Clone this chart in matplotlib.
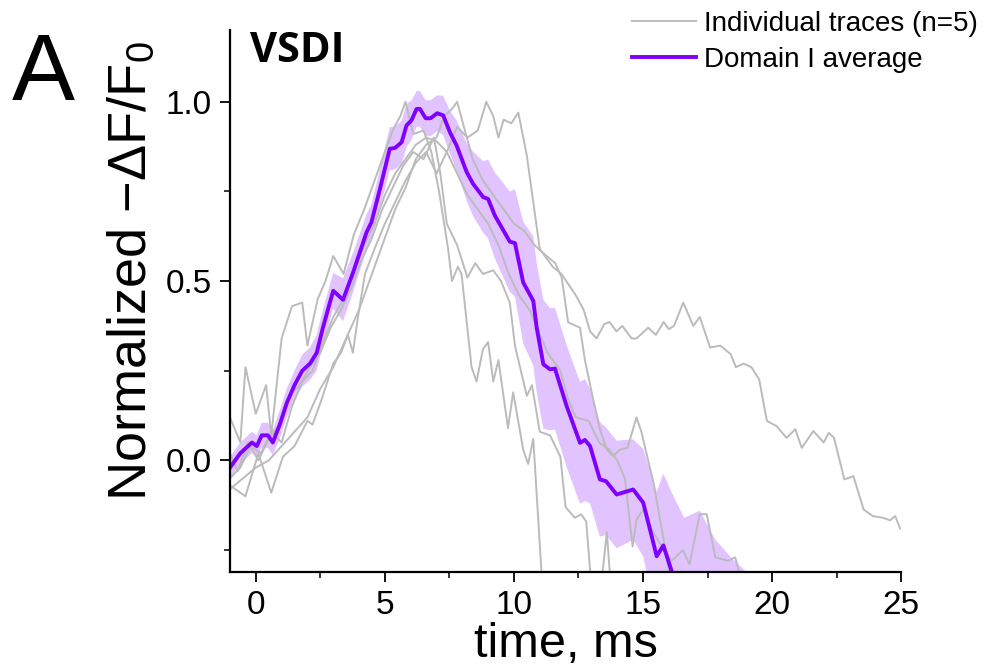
import matplotlib
matplotlib.use("Agg")
import matplotlib.pyplot as plt
from matplotlib.ticker import MultipleLocator

plt.rcParams['font.family'] = ['Liberation Sans', 'DejaVu Sans']
plt.rcParams['mathtext.fontset'] = 'custom'
plt.rcParams['mathtext.rm'] = 'Liberation Sans'
plt.rcParams['mathtext.it'] = 'Liberation Sans'

# individual traces (time ms, normalized -dF/F0)
t1 = [-1.0, -0.6, -0.4, 0.0, 0.4, 0.6, 1.0, 1.4, 1.8, 2.0, 2.4, 2.7, 3.0, 3.4, 3.8, 4.2, 4.6, 5.0, 5.3,
      5.6, 5.8, 6.1, 6.5, 6.8, 7.1, 7.45, 7.6, 7.83, 7.97, 8.36, 8.55, 8.8, 9.0, 9.2, 9.4, 9.77, 9.97,
      10.36, 10.55, 10.75, 11.1]
y1 = [0.12, 0.05, 0.26, 0.13, 0.21, 0.07, 0.34, 0.43, 0.44, 0.32, 0.45, 0.50, 0.57, 0.52, 0.63, 0.70,
      0.78, 0.86, 0.92, 0.96, 1.00, 0.91, 0.92, 0.86, 0.75, 0.59, 0.50, 0.54, 0.52, 0.26, 0.22, 0.31,
      0.33, 0.22, 0.28, 0.09, 0.19, 0.03, -0.01, 0.06, -0.35]

t2 = [-1.0, -0.7, -0.3, 0.1, 0.5, 0.9, 1.3, 1.7, 2.1, 2.5, 2.9, 3.3, 3.7, 4.1, 4.5, 4.9, 5.3, 5.7,
      6.1, 6.5, 6.9, 7.15, 7.4, 7.8, 8.2, 8.5, 8.8, 9.2, 9.5, 9.84, 10.04, 10.5, 10.7, 11.0, 11.4,
      11.8, 12.0, 12.36, 12.6, 12.8, 13.0, 13.3, 13.6, 13.8]
y2 = [0.02, -0.03, 0.05, 0.00, 0.06, 0.10, 0.18, 0.21, 0.26, 0.30, 0.37, 0.42, 0.48, 0.56, 0.62,
      0.70, 0.76, 0.82, 0.86, 0.84, 0.90, 0.80, 0.66, 0.60, 0.51, 0.55, 0.52, 0.53, 0.50, 0.44, 0.32,
      0.18, 0.21, 0.08, 0.07, 0.01, -0.13, -0.16, -0.15, -0.17, -0.35, -0.40, -0.20, -0.40]

t3 = [-1.0, -0.6, -0.2, 0.2, 0.6, 1.0, 1.4, 1.8, 2.2, 2.6, 3.0, 3.4, 3.8, 4.2, 4.6, 5.0, 5.4, 5.8,
      6.2, 6.6, 7.0, 7.4, 7.8, 8.2, 8.6, 9.0, 9.4, 9.8, 10.2, 10.6, 10.9, 11.3, 11.8, 12.1, 12.4,
      12.9, 13.3, 13.7, 14.0, 14.3, 14.6, 14.75, 15.0, 15.4, 15.8, 16.1, 16.55, 16.8, 17.2, 17.47,
      17.8, 18.3, 18.57, 18.8]
y3 = [-0.05, -0.02, 0.04, 0.02, 0.08, 0.05, 0.15, 0.22, 0.25, 0.33, 0.40, 0.45, 0.53, 0.60, 0.66,
      0.74, 0.80, 0.84, 0.88, 0.90, 0.89, 0.86, 0.80, 0.74, 0.70, 0.66, 0.60, 0.52, 0.46, 0.42, 0.37,
      0.30, 0.25, 0.17, 0.12, 0.11, 0.05, 0.03, 0.00, -0.05, -0.24, -0.165, -0.137, -0.20, -0.25,
      -0.28, -0.25, -0.29, -0.15, -0.15, -0.27, -0.28, -0.27, -0.33]

t4 = [-1.0, -0.5, 0.0, 0.5, 1.0, 1.5, 2.0, 2.5, 3.0, 3.5, 4.0, 4.5, 5.0, 5.4, 5.8, 6.2, 6.6, 7.0,
      7.3, 7.6, 7.8, 8.1, 8.4, 8.8, 9.2, 9.6, 10.0, 10.4, 10.8, 11.1, 11.6, 11.85, 12.1, 12.56, 12.75,
      13.07, 13.33, 13.6, 13.85, 14.1, 14.4, 14.75, 14.95, 15.1, 15.4, 15.8, 16.05]
y4 = [-0.08, -0.05, -0.02, 0.00, 0.04, 0.08, 0.12, 0.20, 0.26, 0.34, 0.42, 0.52, 0.62, 0.70, 0.76,
      0.84, 0.88, 0.90, 0.96, 0.98, 1.00, 0.92, 0.84, 0.78, 0.74, 0.70, 0.66, 0.64, 0.60, 0.58, 0.55,
      0.51, 0.385, 0.37, 0.28, 0.17, 0.087, 0.03, 0.012, 0.03, 0.035, 0.12, 0.077, 0.03, -0.06,
      -0.22, -0.33]

t5 = [-1.0, -0.6, -0.4, 0.1, 0.6, 1.05, 1.5, 2.0, 2.2, 2.55, 3.0, 3.3, 3.57, 3.76, 3.96, 4.23, 4.6,
      5.0, 5.4, 5.8, 6.2, 6.6, 7.0, 7.4, 7.8, 8.2, 8.6, 8.93, 9.2, 9.4, 9.6, 9.9, 10.17, 10.5, 11.0,
      11.5, 11.84, 12.4, 12.7, 12.95, 13.2, 13.5, 13.7, 13.97, 14.2, 14.56, 14.75, 15.2, 15.5, 15.8,
      16.0, 16.2, 16.56, 16.95, 17.2, 17.6, 18.0, 18.4, 18.6, 18.9, 19.2, 19.5, 19.8, 20.17, 20.56,
      20.9, 21.15, 21.6, 22.0, 22.2, 22.4, 22.8, 23.15, 23.55, 23.9, 24.3, 24.57, 24.77, 24.96]
y5 = [-0.07, -0.09, -0.10, 0.02, -0.09, 0.01, 0.04, 0.11, 0.10, 0.17, 0.27, 0.30, 0.35, 0.30, 0.40,
      0.52, 0.59, 0.66, 0.72, 0.78, 0.83, 0.86, 0.80, 0.86, 0.93, 0.90, 0.92, 1.00, 0.96, 0.90, 0.95,
      0.94, 0.97, 0.85, 0.59, 0.54, 0.52, 0.46, 0.42, 0.36, 0.34, 0.38, 0.386, 0.36, 0.375, 0.34,
      0.34, 0.37, 0.35, 0.386, 0.366, 0.375, 0.44, 0.375, 0.40, 0.315, 0.32, 0.296, 0.26, 0.27, 0.26,
      0.226, 0.11, 0.096, 0.063, 0.087, 0.035, 0.082, 0.05, 0.077, 0.063, -0.053, -0.044, -0.137,
      -0.155, -0.16, -0.167, -0.155, -0.19]

traces = [(t1, y1), (t2, y2), (t3, y3), (t4, y4), (t5, y5)]

# domain I average and its spread
t_avg = [-1.0, -0.6, -0.15, 0.04, 0.23, 0.47, 0.66, 0.93, 1.2, 1.5, 1.8, 2.1, 2.36, 2.6, 3.0, 3.38,
         3.77, 4.29, 4.48, 4.81, 5.19, 5.39, 5.65, 5.84, 6.03, 6.23, 6.36, 6.58, 6.77, 7.03, 7.26,
         7.52, 7.78, 8.17, 8.42, 8.81, 9.0, 9.26, 9.84, 10.04, 10.36, 10.75, 10.88, 11.14, 11.4,
         11.59, 12.04, 12.56, 12.75, 12.95, 13.33, 13.57, 13.98, 14.62, 15.01, 15.53, 15.79, 16.11,
         16.6, 17.2, 17.8, 18.4, 19.0, 19.6]
y_avg = [-0.02, 0.02, 0.05, 0.04, 0.07, 0.07, 0.05, 0.10, 0.16, 0.21, 0.25, 0.27, 0.30, 0.37, 0.473,
         0.448, 0.524, 0.636, 0.664, 0.757, 0.869, 0.871, 0.887, 0.934, 0.948, 0.980, 0.980, 0.954,
         0.954, 0.968, 0.962, 0.915, 0.878, 0.804, 0.771, 0.734, 0.729, 0.683, 0.610, 0.606, 0.496,
         0.445, 0.371, 0.268, 0.254, 0.256, 0.152, 0.049, 0.057, 0.040, -0.053, -0.058, -0.095,
         -0.081, -0.118, -0.267, -0.237, -0.309, -0.38, -0.40, -0.46, -0.50, -0.55, -0.60]
sem = [0.03, 0.03, 0.03, 0.03, 0.035, 0.035, 0.035, 0.04, 0.04, 0.04, 0.045, 0.045, 0.05, 0.05,
       0.05, 0.06, 0.055, 0.05, 0.05, 0.055, 0.06, 0.06,
       0.06, 0.06, 0.055, 0.05, 0.05, 0.05, 0.05, 0.05, 0.055,
       0.06, 0.07, 0.08, 0.09, 0.10, 0.11, 0.12,
       0.14, 0.15, 0.17, 0.18, 0.18, 0.18, 0.17, 0.17,
       0.17, 0.17, 0.17, 0.16, 0.16, 0.15, 0.15,
       0.14, 0.15, 0.18, 0.20, 0.22,
       0.22, 0.26, 0.24, 0.23, 0.24, 0.24]

gray = '#bbbbbb'
purple = '#8000ff'

fig = plt.figure(figsize=(9.87, 6.67), dpi=100)
ax = fig.add_axes([0.233, 0.143, 0.68, 0.812])

for i, (t, y) in enumerate(traces):
    ax.plot(t, y, color=gray, lw=1.4, label='Individual traces (n=5)' if i == 0 else None)
lo = [m - s for m, s in zip(y_avg, sem)]
hi = [m + s for m, s in zip(y_avg, sem)]
ax.fill_between(t_avg, lo, hi, color=purple, alpha=0.23, lw=0)
ax.plot(t_avg, y_avg, color=purple, lw=2.8, label='Domain I average')

ax.set_xlim(-1, 25)
ax.set_ylim(-0.31, 1.2)
ax.xaxis.set_major_locator(MultipleLocator(5))
ax.xaxis.set_minor_locator(MultipleLocator(2.5))
ax.yaxis.set_major_locator(MultipleLocator(0.5))
ax.yaxis.set_minor_locator(MultipleLocator(0.25))
ax.yaxis.set_major_formatter(plt.FuncFormatter(lambda v, p: f'{v:.1f}'))
for s in ['top', 'right']:
    ax.spines[s].set_visible(False)
for s in ['left', 'bottom']:
    ax.spines[s].set_linewidth(1.6)
ax.tick_params(which='major', length=7, width=1.3, labelsize=24, pad=6)
ax.tick_params(which='minor', length=4, width=1.1)

ax.set_xlabel('time, ms', fontsize=35, labelpad=1)
ax.set_ylabel('Normalized \u2212\u0394F/F$_0$', fontsize=39)
ax.yaxis.set_label_coords(-0.11, 0.555)

ax.text(0.03, 0.998, 'VSDI', transform=ax.transAxes, fontsize=30, fontweight='bold',
        family='Open Sans', va='top', ha='left')
fig.text(0.012, 1 - 100 / 667, 'A', fontsize=68, va='baseline', ha='left')

leg = ax.legend(loc='upper right', bbox_to_anchor=(0.995, 0.99), bbox_transform=fig.transFigure,
                frameon=False, fontsize=20, handlelength=2.3, handletextpad=0.3,
                labelspacing=0.35, borderpad=0.15, borderaxespad=0)

fig.savefig('out.png', dpi=100)
